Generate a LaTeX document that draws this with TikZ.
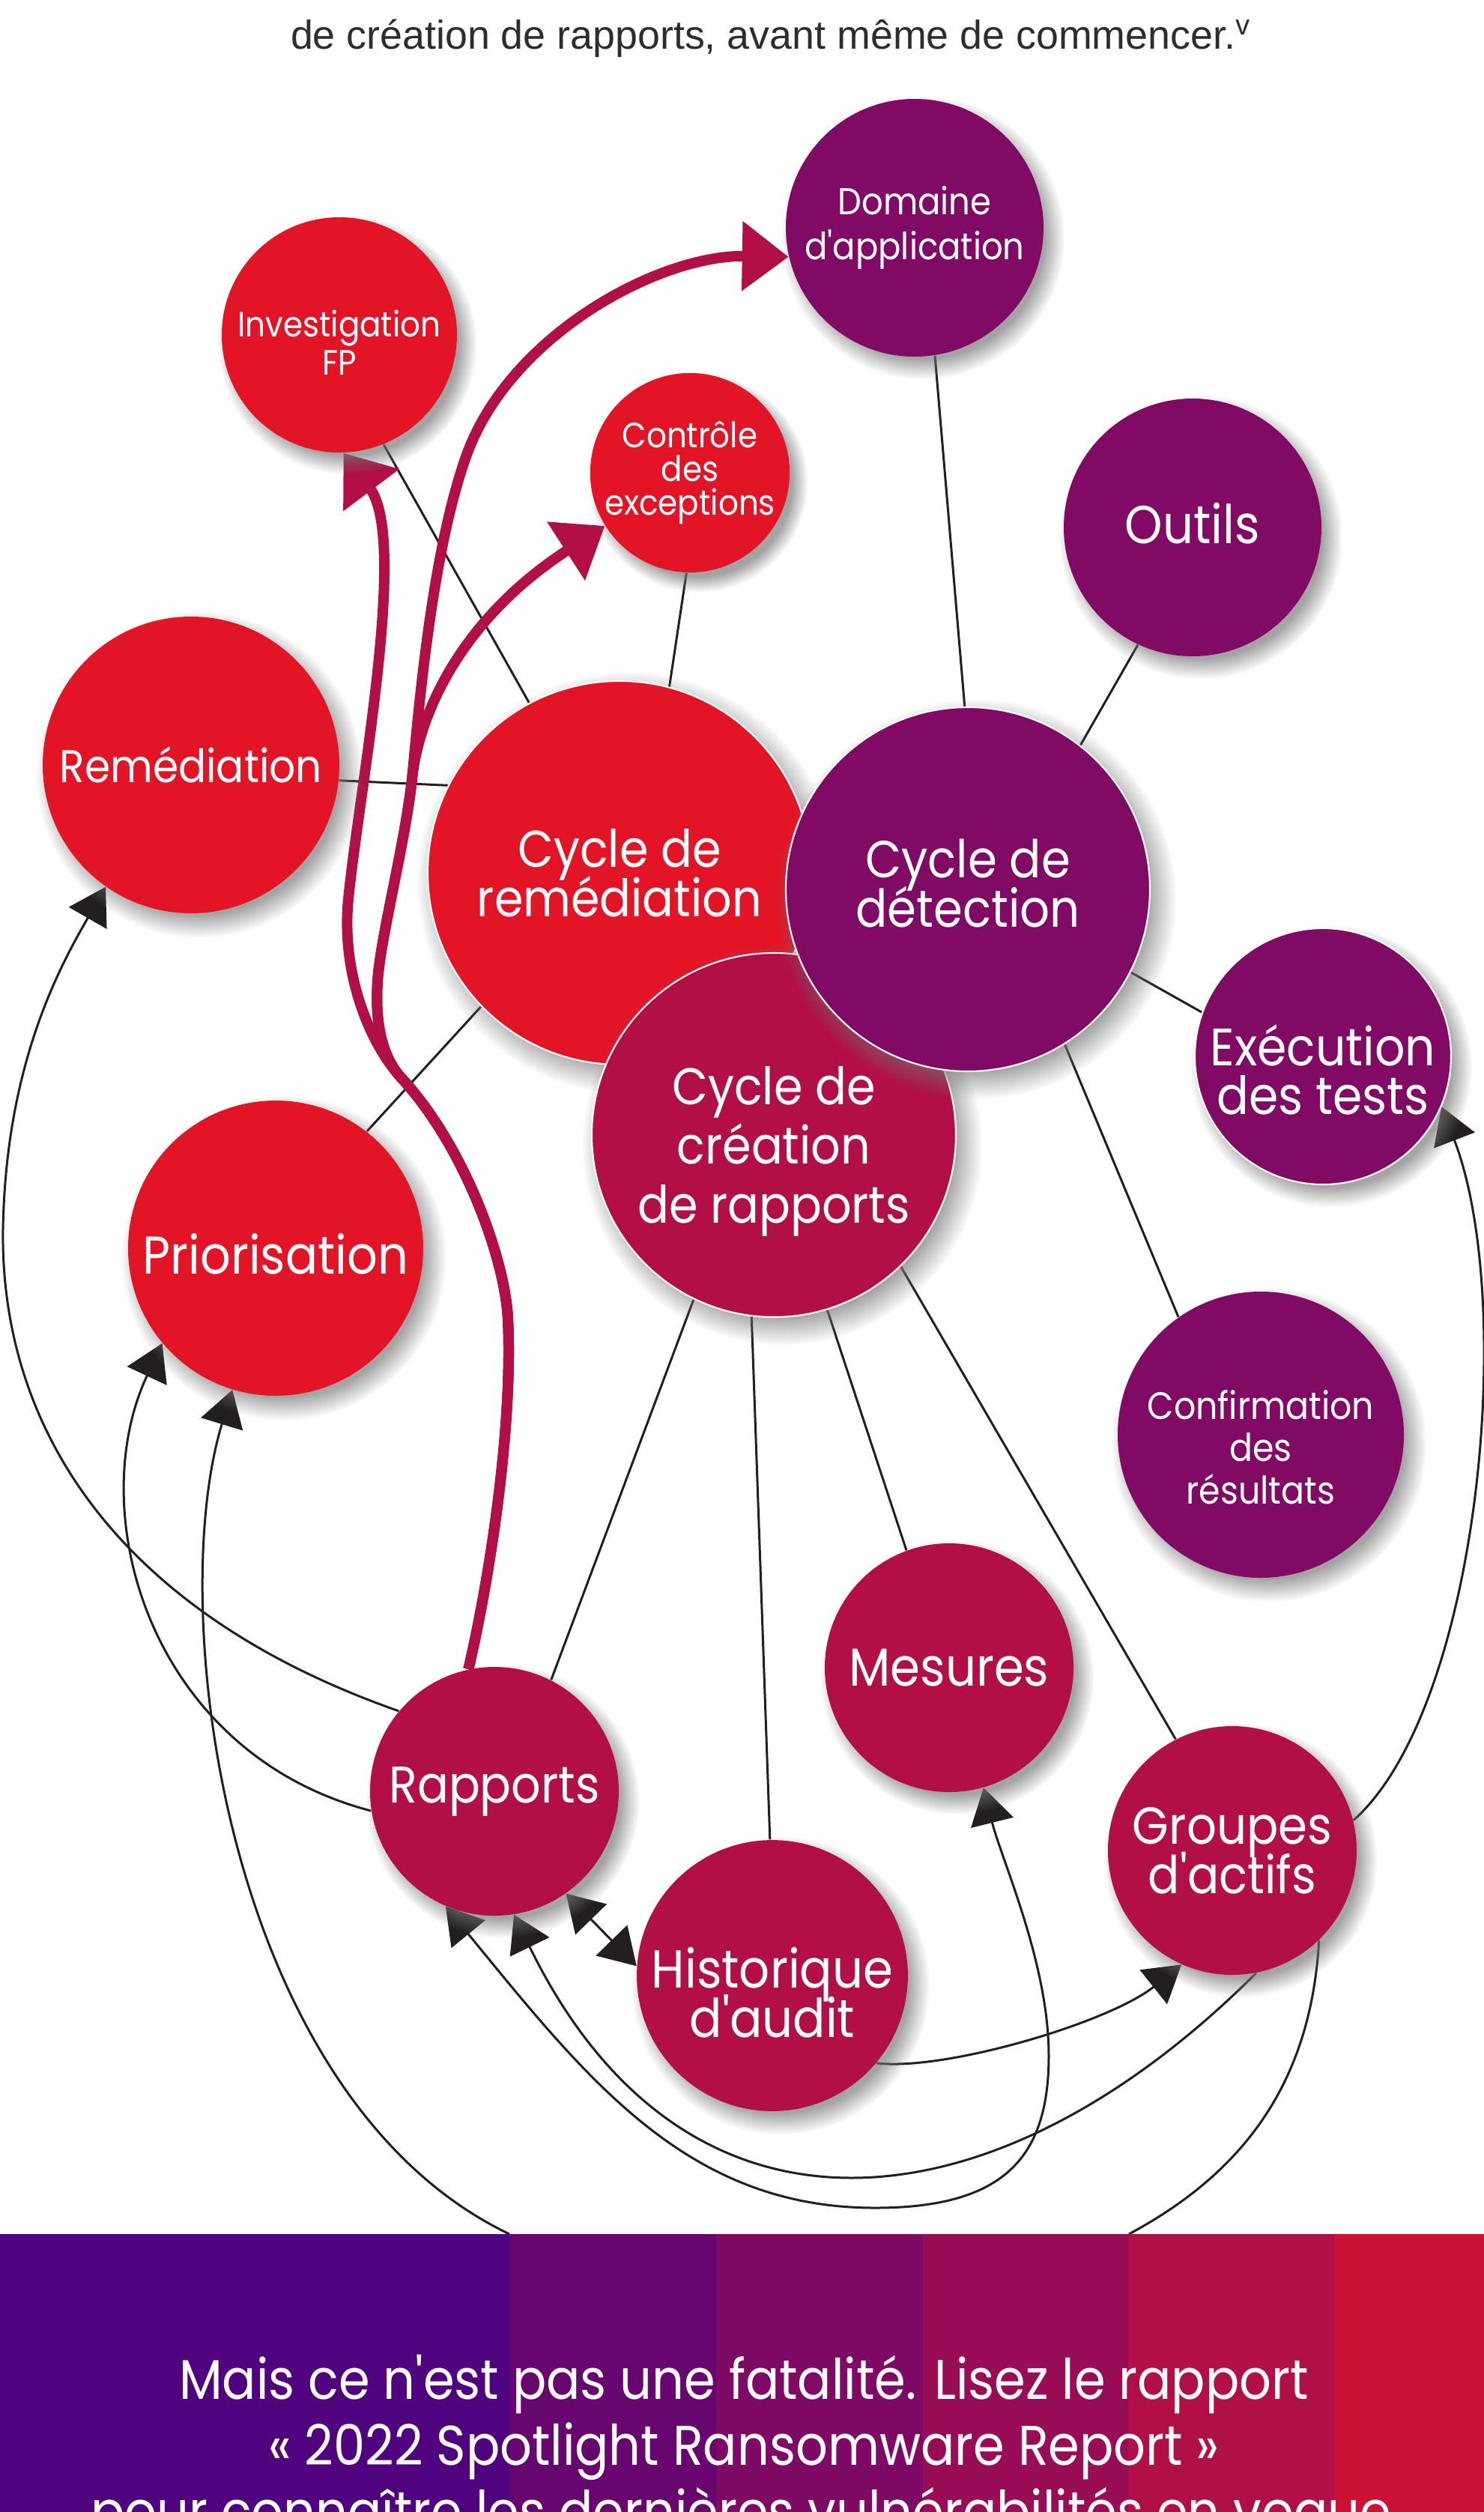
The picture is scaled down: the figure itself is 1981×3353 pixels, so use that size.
\documentclass[tikz,border=0pt]{standalone}
\usepackage{fontspec}
\newfontfamily\poppins{Poppins}[FakeStretch=0.9]
\newfontfamily\leadfont{Liberation Sans}
\usetikzlibrary{arrows.meta,shadows,backgrounds}

\definecolor{redfill}{HTML}{E41427}
\definecolor{plumfill}{HTML}{800A64}
\definecolor{winefill}{HTML}{B10F46}
\definecolor{ink}{HTML}{231F20}
\definecolor{leadgray}{HTML}{2D2D2D}
\definecolor{bandA}{HTML}{50037F}
\definecolor{bandB}{HTML}{68066F}
\definecolor{bandC}{HTML}{7F0A65}
\definecolor{bandD}{HTML}{990D56}
\definecolor{bandE}{HTML}{B01045}
\definecolor{bandF}{HTML}{CB1236}
\lineskiplimit=-100pt

\begin{document}
\begin{tikzpicture}[x=0.1mm, y=-0.1mm,
  bubble/.style={circle, inner sep=0pt, text=white, align=center,
    circular drop shadow={shadow xshift=1mm, shadow yshift=-1.2mm, opacity=.65, fill=black!55}},
  rim/.style={draw=white, line width=0.6pt},
  spoke/.style={draw=ink, line width=0.3mm},
  loopline/.style={spoke, -{Triangle[length=4.8mm, width=5.8mm]}},
  twoway/.style={spoke, {Triangle[length=4.8mm, width=5.8mm]}-{Triangle[length=4.8mm, width=5.8mm]}},
  feed/.style={draw=winefill, line width=1.4mm, -{Triangle[length=6.2mm, width=9mm]}}]
  \def\bandtop{2982}
  \def\sz#1#2{\poppins\fontsize{#1}{#2}\selectfont}
  \def\up#1{\rule{0pt}{#1}}   % taller first line pushes the text down
  \def\dn#1{\rule[-#1]{0pt}{0pt}} % deeper last line pulls the text up
  \def\bandtxt{\sz{21.2}{25}}

  \useasboundingbox (0,0) rectangle (1981,3353);

  \node[anchor=base, text=leadgray, font=\leadfont\fontsize{15.3}{18}\selectfont] (lead) at (1029,65)
    {de création de rapports, avant même de commencer.\textsuperscript{v}};

  % outer bubbles
  \node[bubble, fill=plumfill, minimum size=34.4mm, font=\sz{14.2}{17.3}] (dom) at (1221,304) {Domaine\\d'application};
  \node[bubble, fill=redfill, minimum size=31.4mm, font=\sz{13.3}{14.5}] (inv) at (453,447) {\up{15.7pt}Investigation\\FP};
  \node[bubble, fill=redfill, minimum size=26.6mm, font=\sz{13.3}{12.8}] (ctl) at (921,631) {Contrôle\\des\\exceptions};
  \node[bubble, fill=plumfill, minimum size=34.4mm, font=\sz{20.3}{19}] (out) at (1592,704) {Outils\dn{3.4pt}};
  \node[bubble, fill=redfill, minimum size=39.6mm, font=\sz{17.4}{19}] (rem) at (255,1021) {Remédiation};
  \node[bubble, fill=redfill, minimum size=39.4mm, font=\sz{20.2}{19}] (pri) at (368,1666) {\up{19.8pt}Priorisation};
  \node[bubble, rim, fill=plumfill, minimum size=34.2mm, font=\sz{20}{18.5}] (exe) at (1766,1410) {\up{26pt}Exécution\\des tests};
  \node[bubble, fill=plumfill, minimum size=38.2mm, font=\sz{14.5}{16}] (cnf) at (1683,1915) {\up{20.5pt}Confirmation\\des\\résultats};
  \node[bubble, fill=winefill, minimum size=33.2mm, font=\sz{20.3}{19}] (mes) at (1267,2226) {Mesures};
  \node[bubble, fill=winefill, minimum size=33.2mm, font=\sz{19.8}{18.8}] (grp) at (1645,2470) {Groupes\\d'actifs};
  \node[bubble, fill=winefill, minimum size=33.2mm, font=\sz{19.6}{19}] (rap) at (660,2391) {Rapports};
  \node[bubble, fill=winefill, minimum size=33.2mm, font=\sz{20.3}{18.8}] (his) at (1031,2637) {\up{28.4pt}Historique\\d'audit};

  % the three cycles
  \node[bubble, rim, fill=redfill, minimum size=51.2mm, font=\sz{19.6}{18.8}] (cyrem) at (827,1165) {Cycle de\\remédiation};
  \node[bubble, rim, fill=winefill, minimum size=48.6mm, font=\sz{19.6}{22.5}] (cycre) at (1033,1515) {\up{27pt}Cycle de\\création\\de rapports};
  \node[bubble, rim, fill=plumfill, minimum size=48.6mm, font=\sz{19.8}{18.8}] (cydet) at (1292,1187) {Cycle de\\détection\dn{4.6pt}};

  \coordinate (bandL) at (680,\bandtop);
  \coordinate (bandR) at (1507,\bandtop);

  \begin{scope}[on background layer]
    \foreach \a/\b in {inv.-68/cyrem.118, ctl.-92/cyrem.75, rem.-6/cyrem.153, pri.52/cyrem.-136,
                       dom.-81/cydet.91, out.-115/cydet.52, exe.160/cydet.-27, cnf.125/cydet.-58,
                       rap.63/cycre.-116, his.91/cycre.-97, mes.110/cycre.-73, grp.117/cycre.-46} { %for each spoke to a cycle
      \draw[spoke] (\a) -- (\b);
    }

    \draw[loopline] (rap.140) .. controls (150,2150) and (0,1900) .. (4,1640)
      .. controls (8,1420) and (80,1290) .. (rem.-125);
    \draw[loopline] (rap.189) .. controls (200,2340) and (110,2020) .. (pri.220);
    \draw[loopline] (bandL) .. controls (300,2800) and (220,2150) .. (pri.253);
    \draw[twoway] (rap.-55) -- (his.176);
    \draw[loopline] (his.-40) .. controls (1260,2765) and (1480,2700) .. (grp.246);
    \draw[loopline] (grp.14) .. controls (1975,2280) and (2025,1740) .. (exe.-23);
    \draw[loopline] (grp.-79) .. controls (1327,2983) and (915,3025) .. (rap.-81);
    \draw[twoway] (rap.-113) .. controls (785,2777) and (918,2947) .. (1168,2947)
      .. controls (1340,2947) and (1400,2880) .. (1400,2744)
      .. controls (1400,2620) and (1337,2483) .. (mes.-74);
    \draw[spoke] (grp.-46) .. controls (1750,2780) and (1660,2900) .. (bandR);

    % thick feeds out of the reports
    \draw[feed] (rap.102) .. controls (655,2100) and (685,1900) .. (678,1760)
      .. controls (674,1680) and (620,1530) .. (536,1439)
      .. controls (494,1394) and (455,1300) .. (465,1200)
      .. controls (480,1050) and (545,720) .. (inv.-88);
    \draw[feed] (rap.102) .. controls (655,2100) and (685,1900) .. (678,1760)
      .. controls (674,1680) and (620,1530) .. (536,1439)
      .. controls (512,1413) and (500,1370) .. (504,1310)
      .. controls (508,1250) and (540,1130) .. (550,1040)
      .. controls (558,960) and (575,740) .. (623,607)
      .. controls (681,447) and (880,340) .. (dom.193);
    \draw[feed] (rap.102) .. controls (655,2100) and (685,1900) .. (678,1760)
      .. controls (674,1680) and (620,1530) .. (536,1439)
      .. controls (512,1413) and (500,1370) .. (504,1310)
      .. controls (508,1250) and (540,1130) .. (550,1040)
      .. controls (558,960) and (610,830) .. (ctl.212);
  \end{scope}

  \foreach \xa/\xb/\col in {0/680/bandA, 680/956/bandB, 956/1232/bandC, 1232/1506/bandD, 1506/1781/bandE, 1781/1981/bandF} { %for each stripe of the band
    \fill[\col] (\xa,\bandtop) rectangle (\xb,3353);
  }
  \node[anchor=base, text=white, font=\bandtxt] (band1) at (993,3202) {Mais ce n'est pas une fatalité. Lisez le rapport};
  \node[anchor=base, text=white, font=\bandtxt] (band2) at (993,3290) {« 2022 Spotlight Ransomware Report »};
  \node[anchor=base, text=white, font=\bandtxt] (band3) at (989,3378) {pour connaître les dernières vulnérabilités en vogue};
\end{tikzpicture}
\end{document}
